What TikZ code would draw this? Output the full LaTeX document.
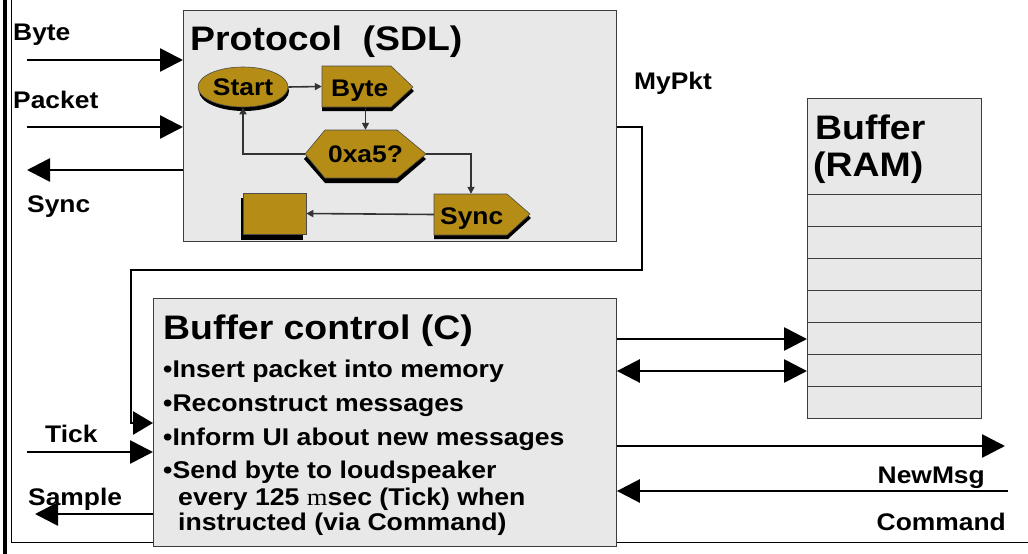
\documentclass[tikz,border=0pt]{standalone}
\usepackage{fontspec}
\setmainfont{Liberation Sans}[FakeStretch=1.1]
\newfontfamily\serifm{Liberation Serif}[FakeStretch=1.1]
\usetikzlibrary{arrows.meta,shapes.geometric,calc}
\definecolor{boxgray}{RGB}{232,232,232}
\definecolor{edgegray}{RGB}{60,60,60}
\definecolor{sdlgold}{RGB}{180,140,22}
\tikzset{
  graybox/.style={draw=edgegray, line width=0.9pt, fill=boxgray, inner sep=0pt},
  sdlfill/.style={fill=sdlgold, draw=black!70, line width=0.6pt},
  sdlshade/.style={fill=black},
  sdltext/.style={inner sep=0pt, font=\bfseries\fontsize{24}{24}\selectfont},
  sdlflow/.style={line width=1.6pt, draw=black!80, -{Triangle[length=7pt,width=7pt]}},
  bigarrow/.style={line width=2.7pt, -{Triangle[length=23pt,width=23pt]}},
  bigboth/.style={line width=2.7pt, {Triangle[length=23pt,width=23pt]}-{Triangle[length=23pt,width=23pt]}},
  lbl/.style={font=\bfseries\fontsize{24}{24}\selectfont, inner sep=0pt},
  bullet/.style={font=\bfseries\fontsize{24.2}{24.2}\selectfont, inner sep=0pt, anchor=base west},
  ttl/.style={font=\bfseries\fontsize{34}{34}\selectfont, inner sep=0pt},
}
\begin{document}
\begin{tikzpicture}[x=1pt,y=-1pt]
\useasboundingbox (0,0) rectangle (1028,554);
\fill[white] (0,0) rectangle (1028,554);

% page frame
\draw[line width=3.5pt] (5,0) -- (5,554);
\draw[line width=1pt] (11.5,0) -- (11.5,542.5) -- (1028,542.5);

% ---------- Protocol (SDL) ----------
\node[graybox, anchor=north west, minimum width=433pt, minimum height=231pt] (proto) at (183,10) {};
\node[ttl, anchor=base west] (ptitle) at (190,50) {Protocol\ \ (SDL)};

% start symbol
\fill[sdlshade] (244,91) ellipse [x radius=45, y radius=20];
\node[sdlfill, ellipse, minimum width=90pt, minimum height=40pt, inner sep=0pt,
      font=\bfseries\fontsize{24}{24}\selectfont] (start) at (243,87) {Start};

% input symbol "Byte"
\fill[sdlshade] (322,70) -- (392,70) -- (414,91) -- (392,111) -- (322,111) -- cycle;
\filldraw[sdlfill] (322,66) -- (391,66) -- (413,87) -- (391,107) -- (322,107) -- cycle;
\node[sdltext, anchor=base west] (bytet) at (331,96) {Byte};
\node[inner sep=0pt, minimum width=91pt, minimum height=41pt] (byte) at (367.5,86.5) {};

% decision hexagon
\coordinate (hexc) at (365,154);
\fill[sdlshade] ($(hexc)+(-61,5)$) -- ($(hexc)+(-40,-19)$) -- ($(hexc)+(33,-19)$) -- ($(hexc)+(61,5)$)
  -- ($(hexc)+(33,29)$) -- ($(hexc)+(-40,29)$) -- cycle;
\filldraw[sdlfill]
  ($(hexc)+(-60,0)$) -- ($(hexc)+(-40,-24)$) -- ($(hexc)+(32,-24)$) -- ($(hexc)+(61,0)$)
  -- ($(hexc)+(32,24)$) -- ($(hexc)+(-40,24)$) -- cycle;
\node[inner sep=0pt, minimum width=121pt, minimum height=48pt,
      font=\bfseries\fontsize{24}{24}\selectfont] (hex) at ($(hexc)+(0.5,0)$) {0xa5?};

% output symbol "Sync"
\fill[sdlshade] (434,198) -- (508,198) -- (531,218) -- (508,239) -- (434,239) -- cycle;
\filldraw[sdlfill] (434,194) -- (507,194) -- (530,214) -- (507,235) -- (434,235) -- cycle;
\node[sdltext, anchor=base west] (synct) at (440,224) {Sync};
\node[inner sep=0pt, minimum width=96pt, minimum height=41pt] (sync) at (482,214.5) {};

% state box
\fill[sdlshade] (241,198) rectangle (303,240);
\node[sdlfill, minimum width=63pt, minimum height=41pt, inner sep=0pt] (sq) at (274.5,213.5) {};

\draw[sdlflow] (start.east) -- (byte.west);
\draw[sdlflow] (hex.north |- byte.south) -- (hex.north);
\draw[sdlflow] (hex.west) -| (start.south);
\draw[sdlflow] (hex.east) -| ([xshift=-11pt]sync.north);
\draw[sdlflow] (sync.west) -- (sq.east);

% ---------- Buffer (RAM) ----------
\node[graybox, anchor=north west, minimum width=174pt, minimum height=320pt] (ram) at (807,98) {};
\node[ttl, anchor=base west] (ramt1) at (815,139) {Buffer};
\node[ttl, anchor=base west] (ramt2) at (813,176) {(RAM)};
\foreach \yy in {194,226,258,290,322,354,386}
  \draw[edgegray, line width=0.9pt] (ram.west |- 0,\yy) -- (ram.east |- 0,\yy);

% ---------- Buffer control (C) ----------
\node[graybox, anchor=north west, minimum width=463pt, minimum height=248pt] (bc) at (153,298) {};
\node[ttl, anchor=base west] (bctitle) at (163,339) {Buffer control (C)};
\node[bullet] (b1) at (163,377) {•Insert packet into memory};
\node[bullet] (b2) at (163,411) {•Reconstruct messages};
\node[bullet] (b3) at (163,445) {•Inform UI about new messages};
\node[bullet] (b4) at (163,478) {•Send byte to loudspeaker};
\node[bullet] (b5) at (178,505) {every 125 {\serifm\mdseries m}sec (Tick) when};
\node[bullet] (b6) at (178,530) {instructed (via Command)};

% ---------- signals ----------
\coordinate (byteSrc) at (27,60);
\coordinate (pktSrc) at (27,127);
\coordinate (syncDst) at (27,170);
\coordinate (tickSrc) at (27,452);
\coordinate (sampleDst) at (35,514);
\coordinate (newmsgDst) at (1005,446);
\coordinate (cmdSrc) at (1008,491);

\draw[bigarrow] (byteSrc) -- (byteSrc -| proto.west);
\draw[bigarrow] (pktSrc) -- (pktSrc -| proto.west);
\draw[bigarrow] (syncDst -| proto.west) -- (syncDst);
\draw[line width=2.7pt, line join=miter, -{Triangle[length=20pt,width=23pt]}]
  (proto.east |- 0,127) -- (642,127) -- (642,270) -- (131,270) -- (131,423) -- (bc.west |- 0,423);
\draw[bigarrow] (tickSrc) -- (tickSrc -| bc.west);
\draw[bigarrow] (sampleDst -| bc.west) -- (sampleDst);
\draw[bigarrow] (bc.east |- 0,339) -- (ram.west |- 0,339);
\draw[bigboth] (bc.east |- 0,371) -- (ram.west |- 0,371);
\draw[bigarrow] (newmsgDst -| bc.east) -- (newmsgDst);
\draw[bigarrow] (cmdSrc) -- (cmdSrc -| bc.east);

\node[lbl, anchor=base west] (lbyte) at (13,40) {Byte};
\node[lbl, anchor=base west] (lpkt) at (13,108) {Packet};
\node[lbl, anchor=base west] (lsync) at (27,212) {Sync};
\node[lbl, anchor=base west] (lmypkt) at (634,89) {MyPkt};
\node[lbl, anchor=base west] (ltick) at (45,442) {Tick};
\node[lbl, anchor=base west] (lsample) at (28,505) {Sample};
\node[lbl, anchor=base east] (lnewmsg) at (985,483) {NewMsg};
\node[lbl, anchor=base east] (lcmd) at (1006,530) {Command};
\end{tikzpicture}
\end{document}
